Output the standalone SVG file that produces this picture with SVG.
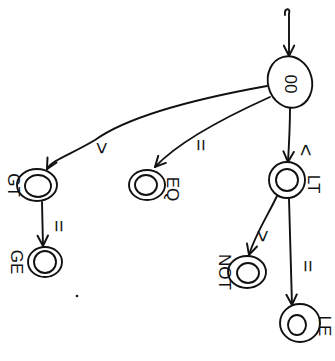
<svg xmlns="http://www.w3.org/2000/svg" width="335" height="361" viewBox="0 0 335 361">
<style>
.s{fill:none;stroke:#111;stroke-width:1.9;stroke-linecap:round;stroke-linejoin:round}
.t{font-family:"Liberation Sans",Arial,sans-serif;fill:#111;font-size:17px;text-anchor:middle;dominant-baseline:central}
.e{font-family:"Liberation Sans",Arial,sans-serif;fill:#111;font-size:21px;text-anchor:middle;dominant-baseline:central}
</style>
<defs>
<marker id="a" viewBox="0 0 10 10" refX="9" refY="5" markerWidth="13" markerHeight="13" orient="auto" markerUnits="userSpaceOnUse">
<path d="M1,1 L9,5 L1,9" fill="none" stroke="#111" stroke-width="1.5" stroke-linecap="round"/>
</marker>
</defs>
<rect width="335" height="361" fill="#fff"/>
<g id="connectors">
<path class="s" d="M285,15 C284,8 291,7 289,14 L289,56" marker-end="url(#a)"/>
<path class="s" d="M267,86 C200,98 130,115 95,140 C70,155 52,160 47,169" marker-end="url(#a)"/>
<path class="s" d="M270,97 C230,115 180,140 155,167" marker-end="url(#a)"/>
<path class="s" d="M290,108 C290,125 289,145 288,162" marker-end="url(#a)"/>
<path class="s" d="M42,202 L43,246" marker-end="url(#a)"/>
<path class="s" d="M277,196 C268,215 255,235 249,255" marker-end="url(#a)"/>
<path class="s" d="M289,199 C290,240 291,280 292,305" marker-end="url(#a)"/>
<text class="e" transform="translate(102,148) rotate(90)">&gt;</text>
<text class="e" transform="translate(201,145) rotate(90)">=</text>
<text class="e" transform="translate(306,150) rotate(90)">&lt;</text>
<text class="e" transform="translate(59,226) rotate(90)">=</text>
<text class="e" transform="translate(263,236) rotate(90)">&gt;</text>
<text class="e" transform="translate(308,266) rotate(90)">=</text>
</g>
<g id="start">
<ellipse class="s" cx="290" cy="82" rx="22" ry="26" transform="rotate(-15 290 82)"/>
<text class="t" transform="translate(290,84) rotate(90)">00</text>
</g>
<g id="gt">
<ellipse class="s" cx="37" cy="185" rx="20" ry="16"/>
<ellipse class="s" cx="38" cy="186" rx="13" ry="11"/>
<text class="t" transform="translate(13,185) rotate(90)">GT</text>
</g>
<g id="ge">
<ellipse class="s" cx="45" cy="262" rx="17" ry="15"/>
<ellipse class="s" cx="45" cy="262" rx="11" ry="11"/>
<text class="t" transform="translate(16,262) rotate(90)">GE</text>
</g>
<g id="eq">
<ellipse class="s" cx="147" cy="185" rx="18" ry="15"/>
<ellipse class="s" cx="146" cy="185" rx="11" ry="10"/>
<text class="t" transform="translate(172,189) rotate(90)">EQ</text>
</g>
<g id="lt">
<ellipse class="s" cx="287" cy="180" rx="18" ry="18"/>
<ellipse class="s" cx="287" cy="180" rx="11" ry="11"/>
<text class="t" transform="translate(313,184) rotate(90)">LT</text>
</g>
<g id="ne">
<ellipse class="s" cx="247" cy="272" rx="19" ry="16"/>
<ellipse class="s" cx="248" cy="273" rx="11" ry="10"/>
<text class="t" transform="translate(224,272) rotate(90)">NOT</text>
</g>
<g id="le">
<ellipse class="s" cx="300" cy="323" rx="20" ry="19"/>
<ellipse class="s" cx="297" cy="325" rx="9" ry="10"/>
<text class="t" transform="translate(324,326) rotate(90)">LE</text>
</g>
<circle cx="77" cy="296" r="1.3" fill="#111"/>
</svg>
